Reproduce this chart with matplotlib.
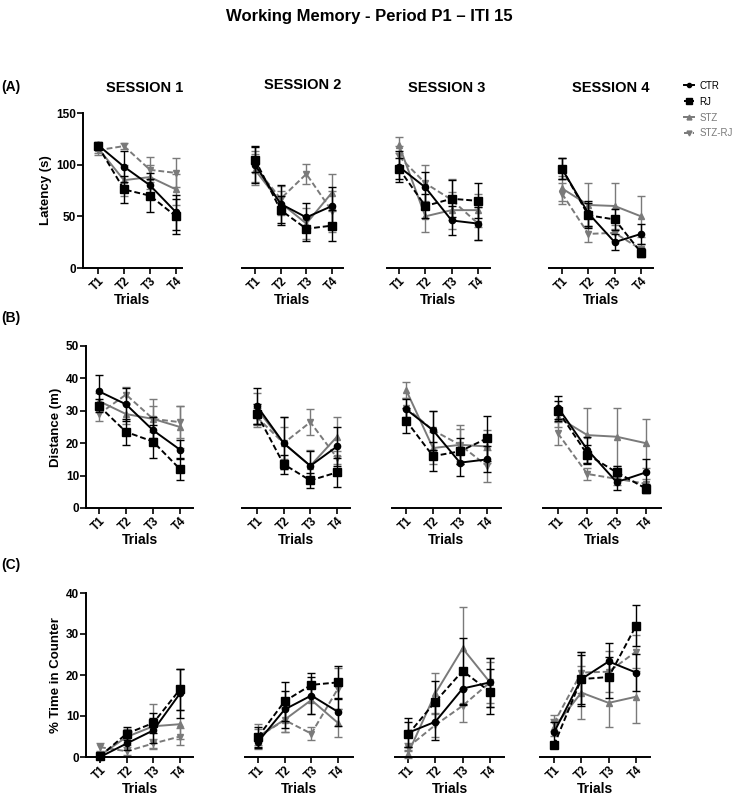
import numpy as np
import matplotlib
matplotlib.use("Agg")
import matplotlib.pyplot as plt
from matplotlib.lines import Line2D

plt.rcParams['font.family'] = ['Liberation Sans', 'DejaVu Sans']

TRIALS = ["T1", "T2", "T3", "T4"]
SESSIONS = ["SESSION 1", "SESSION 2", "SESSION 3", "SESSION 4"]
GROUPS = ["CTR", "RJ", "STZ", "STZ-RJ"]

# latency (s), one row per session
LAT_CTR = [[119, 98, 80, 54], [100, 62, 49, 60], [98, 78, 46, 43], [96, 53, 25, 33]]
LAT_RJ = [[118, 76, 70, 50], [105, 56, 38, 41], [96, 60, 67, 65], [96, 51, 47, 15]]
LAT_STZ = [[116, 85, 88, 76], [95, 63, 43, 73], [119, 50, 56, 56], [77, 61, 60, 50]]
LAT_STZRJ = [[114, 118, 95, 92], [98, 67, 91, 55], [108, 82, 66, 43], [72, 33, 34, 18]]
LAT_CTR_ERR = [[3, 15, 12, 17], [18, 18, 14, 18], [15, 15, 14, 16], [10, 12, 8, 10]]
LAT_RJ_ERR = [[3, 13, 16, 17], [12, 14, 12, 15], [10, 12, 18, 17], [10, 12, 10, 4]]
LAT_STZ_ERR = [[5, 15, 12, 15], [15, 12, 15, 18], [8, 15, 18, 16], [12, 21, 22, 20]]
LAT_STZRJ_ERR = [[5, 3, 12, 14], [15, 12, 10, 20], [10, 18, 20, 16], [10, 8, 8, 5]]

# distance (m)
DIST_CTR = [[36, 32, 24, 18], [31.5, 20, 13, 19], [30.5, 24, 14, 15], [31, 18, 8, 11]]
DIST_RJ = [[31.5, 23.5, 20.5, 12], [29, 13.5, 8.5, 11], [27, 16, 17.5, 21.5], [30, 16.5, 11, 6]]
DIST_STZ = [[33, 29, 27.5, 25], [30.5, 20, 13, 22], [36.5, 18.5, 19.5, 19], [28, 22.5, 22, 20]]
DIST_STZRJ = [[29, 35, 27.5, 26.5], [28, 20, 26.5, 15.5], [31, 24, 19.5, 13], [23, 10.5, 9, 7.5]]
DIST_CTR_ERR = [[5, 5, 4, 3], [5.5, 8, 4.5, 6], [3, 6, 4, 4], [3.5, 4, 2.5, 4]]
DIST_RJ_ERR = [[2, 4, 5, 3.5], [3, 3, 2.3, 4.5], [4, 4.5, 4, 7], [3, 3, 2, 1.5]]
DIST_STZ_ERR = [[2.5, 3, 4, 6.5], [5, 5, 5, 6], [2.5, 5, 5, 5], [3, 8.5, 9, 7.5]]
DIST_STZRJ_ERR = [[2, 2.5, 6, 5], [3, 8, 4, 2], [3, 6, 6, 5], [3.5, 2, 2, 1.5]]

# % time in counter
TIME_CTR = [[0, 3.3, 6.5, 15.5], [3.7, 11.6, 15, 11], [5.9, 8.6, 16.7, 18.2], [6, 19, 23.3, 20.6]]
TIME_RJ = [[0.2, 5.7, 8.3, 16.5], [4.9, 13.6, 17.6, 18.2], [5.5, 13.5, 21, 15.9], [2.9, 19, 19.5, 32]]
TIME_STZ = [[0.4, 4.9, 7.5, 8], [5, 9.1, 13.9, 8.3], [0.8, 15.5, 26.5, 18.2], [7.2, 15.7, 13.2, 14.7]]
TIME_STZRJ = [[2.4, 1.4, 3.3, 5], [4.9, 9, 5.7, 16.7], [2.4, 7.8, 12.5, 18.2], [8.3, 20.6, 20.8, 25.7]]
TIME_CTR_ERR = [[0.5, 1.5, 3, 6], [1.5, 4.5, 4.5, 3.5], [3.5, 4.5, 4, 6], [2.5, 6.5, 4.5, 4.5]]
TIME_RJ_ERR = [[0.5, 1.5, 2.5, 5], [2.5, 4.7, 3, 4], [3, 5, 8, 5.5], [0.5, 6, 5, 5]]
TIME_STZ_ERR = [[0.5, 2, 5.5, 3.5], [3, 3, 3.5, 3.5], [1, 5, 10, 5], [2, 6.5, 6, 6.3]]
TIME_STZRJ_ERR = [[1, 1, 1.2, 2], [2, 3, 1.5, 5], [1, 3, 4, 6], [2, 5, 5, 4]]

GRAY = "#7a7a7a"
STYLES = {
    "CTR": dict(color="black", ls="-", marker="o", ms=4.5),
    "RJ": dict(color="black", ls=(0, (3, 1.5)), marker="s", ms=5.5),
    "STZ": dict(color=GRAY, ls="-", marker="^", ms=5),
    "STZ-RJ": dict(color=GRAY, ls=(0, (3, 1.5)), marker="v", ms=5),
}

W, H = 738, 799

# panel boxes in pixels: (axis left, axis right, T1 x, T4 x)
ROW_X = [
    [(83, 182, 98, 176), (242, 343, 255, 332), (387, 490, 399, 478), (549, 653, 562, 641)],
    [(86, 193, 99, 180), (242, 350, 257, 337), (392, 501, 406, 487), (543, 661, 558, 646)],
    [(86, 193, 100, 180), (245, 353, 258, 338), (395, 504, 408, 490), (540, 650, 554, 636)],
]
# (pixel of ymax, pixel of 0)
ROW_Y = [(113, 268), (346, 508), (593, 757)]
ROW_YMAX = [150, 50, 40]
ROW_YTICKS = [[0, 50, 100, 150], [0, 10, 20, 30, 40, 50], [0, 10, 20, 30, 40]]
ROW_YLABEL = ["Latency (s)", "Distance (m)", "% Time in Counter"]
ROW_TAG = ["(A)", "(B)", "(C)"]
ROW_TAG_Y = [87, 318, 565]
TITLE_POS = [(145, 88), (303, 85), (447, 88), (611, 88)]

MEANS = [
    [LAT_CTR, LAT_RJ, LAT_STZ, LAT_STZRJ],
    [DIST_CTR, DIST_RJ, DIST_STZ, DIST_STZRJ],
    [TIME_CTR, TIME_RJ, TIME_STZ, TIME_STZRJ],
]
ERRS = [
    [LAT_CTR_ERR, LAT_RJ_ERR, LAT_STZ_ERR, LAT_STZRJ_ERR],
    [DIST_CTR_ERR, DIST_RJ_ERR, DIST_STZ_ERR, DIST_STZRJ_ERR],
    [TIME_CTR_ERR, TIME_RJ_ERR, TIME_STZ_ERR, TIME_STZRJ_ERR],
]

fig = plt.figure(figsize=(W / 100, H / 100), dpi=100)
fig.text(0.5, 1 - 17 / H, "Working Memory - Period P1 \u2013 ITI 15",
         ha="center", va="center", fontsize=12, fontweight="bold")

for s in range(4):
    tx, ty = TITLE_POS[s]
    fig.text(tx / W, 1 - ty / H, SESSIONS[s], ha="center", va="center",
             fontsize=10.5, fontweight="bold")

x = np.arange(1, 5)
for r in range(3):
    top, bottom = ROW_Y[r]
    fig.text(1 / W, 1 - ROW_TAG_Y[r] / H, ROW_TAG[r], ha="left", va="center",
             fontsize=10, fontweight="bold")
    for s in range(4):
        left, right, t1, t4 = ROW_X[r][s]
        unit = (t4 - t1) / 3
        ax = fig.add_axes([left / W, 1 - bottom / H, (right - left) / W, (bottom - top) / H])
        ax.set_xlim(1 - (t1 - left) / unit, 4 + (right - t4) / unit)
        ax.set_ylim(0, ROW_YMAX[r])
        ax.patch.set_alpha(0)
        for g in [2, 3, 1, 0]:
            st = STYLES[GROUPS[g]]
            ax.errorbar(x, MEANS[r][g][s], yerr=ERRS[r][g][s], color=st["color"],
                        ls=st["ls"], marker=st["marker"], ms=st["ms"], lw=1.4,
                        elinewidth=1.0, capsize=3, capthick=1.0, clip_on=False,
                        zorder=3 if g < 2 else 2)
        for sp in ["top", "right"]:
            ax.spines[sp].set_visible(False)
        ax.spines["bottom"].set_linewidth(1.4)
        ax.spines["left"].set_linewidth(1.4)
        ax.set_xticks(x)
        ax.set_xticklabels(TRIALS, rotation=45, fontsize=8.5, fontweight="bold")
        ax.tick_params(axis="x", length=4, width=1.2, pad=1)
        ax.set_xlabel("Trials", fontsize=10, fontweight="bold", labelpad=0)
        if s == 0:
            ax.set_yticks(ROW_YTICKS[r])
            ax.tick_params(axis="y", length=4, width=1.2, labelsize=8.5, pad=1)
            for lab in ax.get_yticklabels():
                lab.set_fontweight("bold")
            ax.set_ylabel(ROW_YLABEL[r], fontsize=9.5, fontweight="bold", labelpad=3)
        else:
            ax.spines["left"].set_visible(False)
            ax.set_yticks([])

handles = [Line2D([], [], color=STYLES[g]["color"], ls=STYLES[g]["ls"], lw=1.4,
                  marker=STYLES[g]["marker"], ms=STYLES[g]["ms"] - 1.5) for g in GROUPS]
leg = fig.legend(handles, GROUPS, loc="upper left",
                 bbox_to_anchor=(679 / W, 1 - 76 / H), frameon=False, fontsize=7,
                 handlelength=1.0, handletextpad=0.6, labelspacing=0.6, borderpad=0)
for txt, g in zip(leg.get_texts(), GROUPS):
    txt.set_color(STYLES[g]["color"])

fig.savefig("out.png", dpi=100)
